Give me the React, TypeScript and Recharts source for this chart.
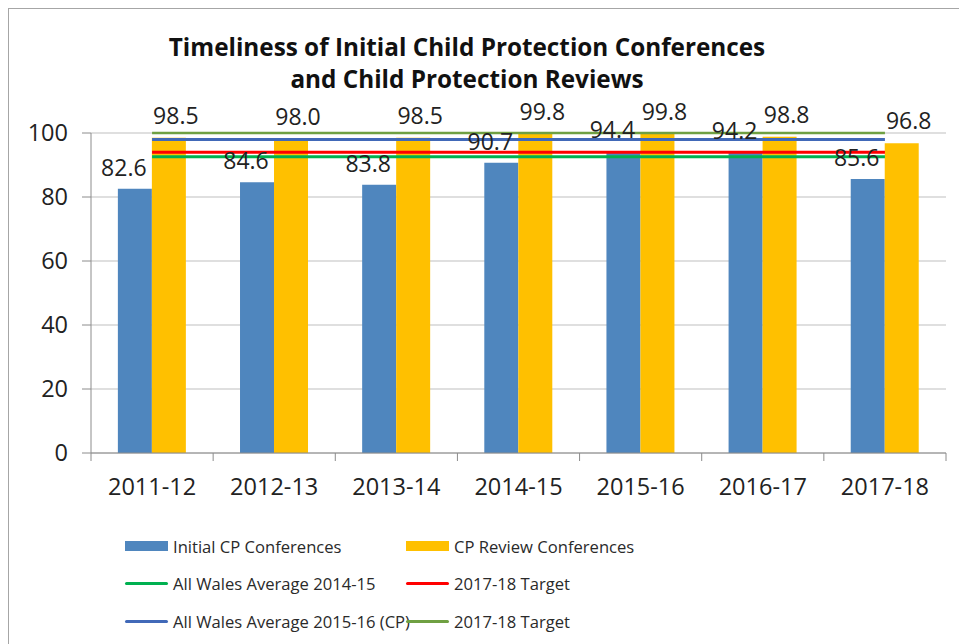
import React from "react";
import {
  Bar,
  CartesianGrid,
  ComposedChart,
  LabelList,
  Line,
  XAxis,
  YAxis,
} from "recharts";

const YEARS = ["2011-12", "2012-13", "2013-14", "2014-15", "2015-16", "2016-17", "2017-18"];
const INITIAL_CP = [82.6, 84.6, 83.8, 90.7, 94.4, 94.2, 85.6];
const CP_REVIEW = [98.5, 98.0, 98.5, 99.8, 99.8, 98.8, 96.8];
const WALES_AVG_1415 = 92.6;
const TARGET_1718_RED = 94;
const WALES_AVG_1516 = 98;
const TARGET_1718_GREEN = 100;
const Y_TICKS = [0, 20, 40, 60, 80, 100];

const FONT = "'Open Sans', 'DejaVu Sans', sans-serif";

const C_BLUE_BAR = "#4F86BE";
const C_YELLOW = "#FFC000";
const C_GREEN = "#00B050";
const C_RED = "#FF0000";
const C_BLUE_LINE = "#4169B8";
const C_OLIVE = "#6FA042";

const rows = YEARS.map((year, i) => ({
  year,
  initial: INITIAL_CP[i],
  review: CP_REVIEW[i],
  avg1415: WALES_AVG_1415,
  target: TARGET_1718_RED,
  avg1516: WALES_AVG_1516,
  target2: TARGET_1718_GREEN,
}));

// excel puts the x tick marks between categories, not under them
function YearTick({ x, y, payload, index, visibleTicksCount, width }: any) {
  const band = width / visibleTicksCount;
  const left = x - band / 2;
  return (
    <g>
      <line x1={left} x2={left} y1={y - 8} y2={y} stroke="#8C8C8C" />
      {index === visibleTicksCount - 1 && (
        <line x1={x + band / 2} x2={x + band / 2} y1={y - 8} y2={y} stroke="#8C8C8C" />
      )}
      <text
        x={x}
        y={y + 34}
        textAnchor="middle"
        fontSize={23.5}
        fontFamily={FONT}
        fill="#222"
      >
        {payload.value}
      </text>
    </g>
  );
}

const LEGEND = [
  { label: "Initial CP Conferences", color: C_BLUE_BAR, kind: "bar" },
  { label: "CP Review Conferences", color: C_YELLOW, kind: "bar" },
  { label: "All Wales Average 2014-15", color: C_GREEN, kind: "line" },
  { label: "2017-18 Target", color: C_RED, kind: "line" },
  { label: "All Wales Average 2015-16 (CP)", color: C_BLUE_LINE, kind: "line" },
  { label: "2017-18 Target", color: C_OLIVE, kind: "line" },
];

function Legend() {
  return (
    <div style={{ position: "absolute", left: 116, top: 527, width: 700 }}>
      {LEGEND.map((item, i) => (
        <div
          key={i}
          style={{
            position: "absolute",
            left: i % 2 === 0 ? 0 : 281,
            top: Math.floor(i / 2) * 37.5,
            display: "flex",
            alignItems: "center",
            height: 20,
            fontFamily: FONT,
            fontSize: 16.6,
            color: "#2a2a2a",
            whiteSpace: "nowrap",
          }}
        >
          <span
            style={{
              display: "inline-block",
              width: 43,
              height: item.kind === "bar" ? 10 : 3,
              borderRadius: item.kind === "bar" ? 0 : 2,
              background: item.color,
              marginRight: 5,
            }}
          />
          {item.label}
        </div>
      ))}
    </div>
  );
}

export default function App() {
  return (
    <div
      style={{
        position: "relative",
        width: 958,
        height: 636,
        borderLeft: "1px solid #A6A6A6",
        borderTop: "1px solid #A6A6A6",
        background: "#fff",
      }}
    >
      <div
        style={{
          position: "absolute",
          left: 0,
          width: 916,
          top: 22,
          textAlign: "center",
          fontFamily: FONT,
          fontWeight: 700,
          fontSize: 24.3,
          lineHeight: "32px",
          color: "#111",
        }}
      >
        Timeliness of Initial Child Protection Conferences
        <br />
        and Child Protection Reviews
      </div>
      <ComposedChart
        width={948}
        height={626}
        data={rows}
        margin={{ top: 124, right: 11, bottom: 142, left: 22 }}
        barCategoryGap="22%"
        barGap={0}
        style={{ position: "absolute", left: 0, top: 0 }}
      >
        <CartesianGrid vertical={false} stroke="#BFBFBF" />
        <XAxis
          dataKey="year"
          axisLine={{ stroke: "#8C8C8C" }}
          tickLine={false}
          tick={<YearTick />}
          height={40}
          interval={0}
        />
        <YAxis
          domain={[0, 100]}
          ticks={Y_TICKS}
          width={60}
          axisLine={{ stroke: "#8C8C8C" }}
          tickLine={{ stroke: "#8C8C8C" }}
          tickSize={9}
          tickMargin={14}
          tick={{ fontSize: 23.5, fontFamily: FONT, fill: "#222" }}
        />
        <Bar dataKey="initial" fill={C_BLUE_BAR} isAnimationActive={false}>
          <LabelList
            dataKey="initial"
            position="top"
            offset={13}
            dx={-11}
            formatter={(v: any) => Number(v).toFixed(1)}
            style={{ fontSize: 23, fontFamily: FONT, fill: "#222" }}
          />
        </Bar>
        <Bar dataKey="review" fill={C_YELLOW} isAnimationActive={false}>
          <LabelList
            dataKey="review"
            position="top"
            offset={14}
            dx={7}
            formatter={(v: any) => Number(v).toFixed(1)}
            style={{ fontSize: 23, fontFamily: FONT, fill: "#222" }}
          />
        </Bar>
        <Line dataKey="avg1415" stroke={C_GREEN} strokeWidth={3} dot={false} isAnimationActive={false} />
        <Line dataKey="target" stroke={C_RED} strokeWidth={3} dot={false} isAnimationActive={false} />
        <Line dataKey="avg1516" stroke={C_BLUE_LINE} strokeWidth={3} dot={false} isAnimationActive={false} />
        <Line dataKey="target2" stroke={C_OLIVE} strokeWidth={2.5} dot={false} isAnimationActive={false} />
      </ComposedChart>
      <Legend />
    </div>
  );
}
